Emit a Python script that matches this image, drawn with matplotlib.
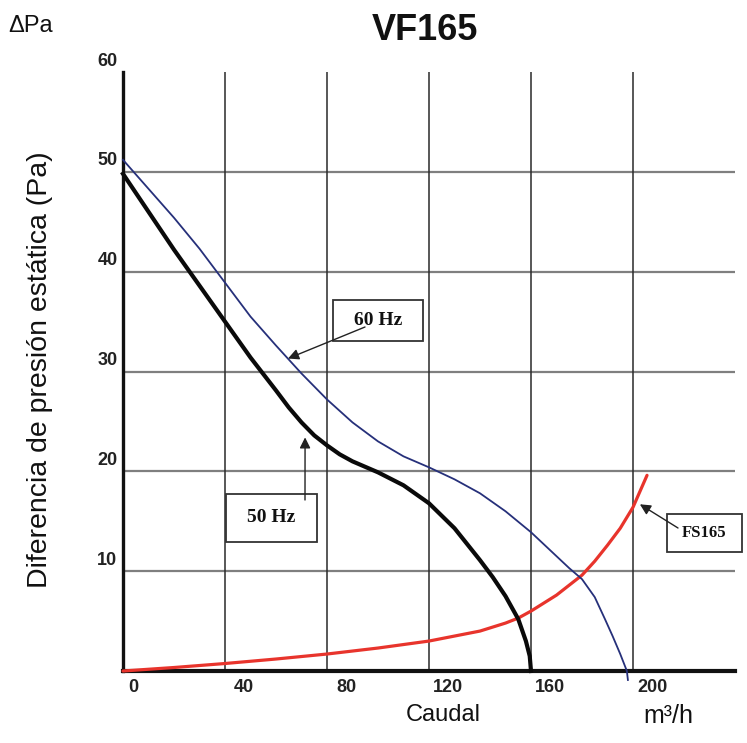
import matplotlib
matplotlib.use("Agg")
import matplotlib.pyplot as plt
from matplotlib.patches import Rectangle
from matplotlib.transforms import ScaledTranslation

# ---------------- data ----------------
x_ticks = [0, 40, 80, 120, 160, 200]
y_ticks = [10, 20, 30, 40, 50, 60]

q_50 = [0, 10, 20, 30, 40, 50, 60, 65, 70, 75, 80, 85, 90, 100, 110, 120, 130, 140, 145, 150, 155, 158, 159.5, 160]
p_50 = [49.8, 46.0, 42.2, 38.6, 35.0, 31.4, 28.1, 26.4, 24.9, 23.6, 22.6, 21.7, 21.0, 19.9, 18.6, 16.8, 14.3, 11.1, 9.4, 7.5, 5.2, 3.0, 1.5, 0.0]

q_60 = [0, 10, 20, 30, 40, 50, 60, 70, 80, 90, 100, 110, 120, 130, 140, 150, 160, 170, 175, 180, 185, 189, 192, 195, 197.6, 198]
p_60 = [51.2, 48.3, 45.4, 42.3, 38.9, 35.5, 32.6, 29.8, 27.2, 24.9, 23.0, 21.5, 20.4, 19.2, 17.8, 16.0, 13.9, 11.5, 10.3, 9.2, 7.4, 5.2, 3.5, 1.7, 0.0, -0.9]

q_fs = [0, 20, 40, 60, 80, 100, 120, 140, 150, 155, 160, 170, 180, 185, 190, 195, 200, 205.5]
p_fs = [0, 0.35, 0.75, 1.2, 1.7, 2.3, 3.0, 4.0, 4.8, 5.3, 6.0, 7.6, 9.6, 11.0, 12.6, 14.3, 16.4, 19.6]

labels = ["60 Hz", "50 Hz", "FS165"]
tips = [(64.7, 31.3), (71.4, 23.4), (202.7, 16.7)]

# ---------------- figure ----------------
W, H = 747, 743
fig = plt.figure(figsize=(W / 100, H / 100), dpi=100)
fig.patch.set_facecolor("white")

def fx(px):
    return px / W

def fy(py):
    return 1 - py / H

ax = fig.add_axes([fx(123), fy(671), fx(735) - fx(123), fy(72) - fy(671)])
ax.set_xlim(0, 240)
ax.set_ylim(0, 60)

for s in ["top", "right"]:
    ax.spines[s].set_visible(False)
ax.spines["left"].set_linewidth(2.4)
ax.spines["bottom"].set_linewidth(3.0)
ax.spines["left"].set_color("#111111")
ax.spines["bottom"].set_color("#111111")

# grid
for yv in y_ticks[:-1]:
    ax.axhline(yv, color="#7f7f7f", lw=1.6, zorder=1)
for xv in x_ticks[1:]:
    ax.axvline(xv, color="#2a2a2a", lw=1.1, zorder=1)

# ticks
ax.set_xticks(x_ticks)
ax.set_xticklabels([str(v) for v in x_ticks], fontsize=13, fontweight="bold",
                   family="Liberation Sans", color="#222222")
ax.set_yticks(y_ticks)
ax.set_yticklabels([str(v) for v in y_ticks], fontsize=13, fontweight="bold",
                   family="Liberation Sans", color="#222222")
ax.tick_params(axis="both", length=0)
ax.tick_params(axis="x", pad=6)
ax.tick_params(axis="y", pad=4)
for i, lab in enumerate(ax.get_xticklabels()):
    dx = 10 if i == 0 else 19
    lab.set_transform(lab.get_transform() + ScaledTranslation(dx / 100, 0, fig.dpi_scale_trans))
for lab in ax.get_yticklabels():
    lab.set_transform(lab.get_transform() + ScaledTranslation(0, 13 / 100, fig.dpi_scale_trans))

# curves
ax.plot(q_fs, p_fs, color="#e8342c", lw=2.3, zorder=3, clip_on=False, solid_capstyle="round")
ax.plot(q_60, p_60, color="#26307a", lw=1.3, zorder=4, clip_on=False)
ax.plot(q_50, p_50, color="#0a0a0a", lw=3.0, zorder=5, clip_on=False, solid_joinstyle="round")

# annotation boxes (pixel layout)
boxes = [(333, 300, 423, 341), (226, 494, 317, 542), (667, 514, 742, 552)]
starts = [(365, 327), (305, 500), (678, 528)]
fonts = [14, 14, 12]
for lab, (x0, y0, x1, y1), (sx, sy), tip, fs in zip(labels, boxes, starts, tips, fonts):
    ax.add_patch(Rectangle((fx(x0), fy(y1)), fx(x1) - fx(x0), fy(y0) - fy(y1),
                           transform=fig.transFigure, facecolor="white",
                           edgecolor="#333333", lw=1.3, zorder=6, clip_on=False))
    ax.annotate("", xy=tip, xycoords="data", xytext=(fx(sx), fy(sy)),
                textcoords="figure fraction",
                arrowprops=dict(arrowstyle="-|>", color="#222222", lw=1.0,
                                mutation_scale=16, shrinkA=0, shrinkB=0),
                zorder=7, annotation_clip=False)
    ax.text(fx((x0 + x1) / 2), fy((y0 + y1) / 2), lab, ha="center", va="center",
            transform=fig.transFigure, fontsize=fs, fontweight="bold",
            family="Liberation Serif", color="#111111", zorder=8, clip_on=False)

# texts
fig.text(fx(8), fy(26), "ΔPa", ha="left", va="center", fontsize=17, family="Liberation Sans", color="#111111")
fig.text(fx(425), fy(31), "VF165", ha="center", va="center", fontsize=26, fontweight="bold",
         family="Liberation Sans", color="#111111")
fig.text(fx(40), fy(370), "Diferencia de presión estática (Pa)", rotation=90, ha="center", va="center",
         fontsize=20.5, family="Liberation Sans", color="#111111")
fig.text(fx(443), fy(715), "Caudal", ha="center", va="center", fontsize=17,
         family="Liberation Sans", color="#111111")
fig.text(fx(668), fy(716), "m³/h", ha="center", va="center", fontsize=18,
         family="Liberation Sans", color="#111111")

fig.savefig("out.png", dpi=100, facecolor="white")
